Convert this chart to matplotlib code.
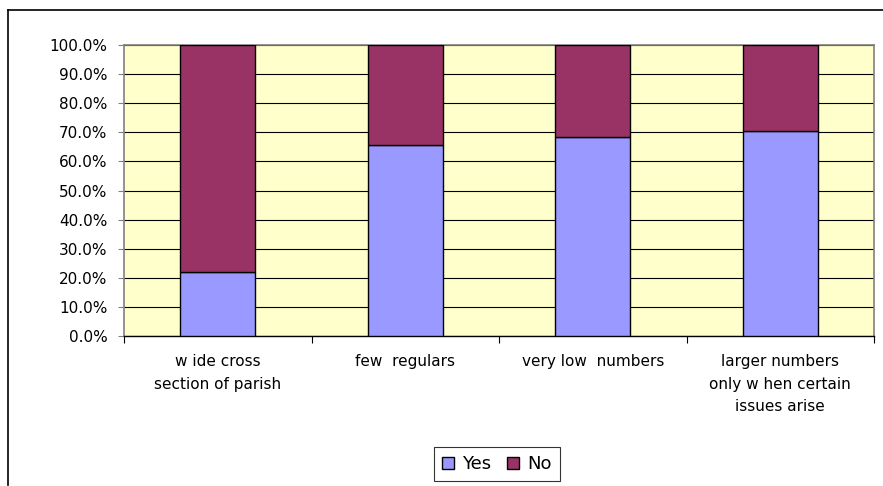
import matplotlib
matplotlib.use("Agg")
import matplotlib.pyplot as plt
from matplotlib.lines import Line2D
from matplotlib.ticker import FixedLocator, NullFormatter
import numpy as np

plt.rcParams['font.family'] = ['DejaVu Sans']

categories = ["w ide cross\nsection of parish", "few  regulars", "very low  numbers",
              "larger numbers\nonly w hen certain\nissues arise"]
yes_vals = [22.0, 65.6, 68.3, 70.6]
no_vals = [78.0, 34.4, 31.7, 29.4]
series_names = ["Yes", "No"]
yticks = [0, 10, 20, 30, 40, 50, 60, 70, 80, 90, 100]

fig = plt.figure(figsize=(8.83, 4.86), dpi=100)
ax = fig.add_axes([124/883, 1-336/486, (874-124)/883, (336-45)/486])
ax.set_facecolor('#FFFFCC')

x = np.arange(len(categories))
w = 0.4
b1 = ax.bar(x, yes_vals, w, color='#9999FF', edgecolor='black', linewidth=1.0, label=series_names[0], zorder=3)
b2 = ax.bar(x, no_vals, w, bottom=yes_vals, color='#993366', edgecolor='black', linewidth=1.0, label=series_names[1], zorder=3)

ax.set_xlim(-0.5, len(categories)-0.5)
ax.set_ylim(0, 100)
ax.set_yticks(yticks)
ax.set_yticklabels([f"{v:.1f}%" for v in yticks], fontsize=11)
ax.yaxis.grid(True, color='black', linewidth=0.8, zorder=0)
ax.set_axisbelow(True)

ax.xaxis.set_major_locator(FixedLocator(np.arange(-0.5, len(categories), 1.0)))
ax.xaxis.set_major_formatter(NullFormatter())
ax.tick_params(axis='x', which='major', length=5, direction='out', color='black')
ax.tick_params(axis='y', length=4, direction='out', color='gray', pad=8)
for i, c in enumerate(categories):
    ax.text(i, -6.3, c, ha='center', va='top', fontsize=11, linespacing=1.6)

for s in ['top', 'right', 'left']:
    ax.spines[s].set_color('gray')
    ax.spines[s].set_linewidth(1.2)
ax.spines['bottom'].set_color('black')
ax.spines['bottom'].set_linewidth(1.0)

leg = fig.legend(handles=[b1, b2], labels=series_names, loc='center',
                 bbox_to_anchor=(497/883, 1-464/486), ncol=2, frameon=True,
                 fontsize=13, handlelength=0.65, handleheight=0.65, handletextpad=0.45,
                 columnspacing=0.9, borderpad=0.45, fancybox=False)
leg.get_frame().set_edgecolor('black')
leg.get_frame().set_linewidth(0.8)

# outer chart frame (partially visible)
fig.add_artist(Line2D([8/883, 1.0], [1-10/486, 1-10/486], color='black', linewidth=1.2, transform=fig.transFigure))
fig.add_artist(Line2D([8/883, 8/883], [1-10/486, 1-485/486], color='black', linewidth=1.2, transform=fig.transFigure))

fig.savefig('out.png', dpi=100)
